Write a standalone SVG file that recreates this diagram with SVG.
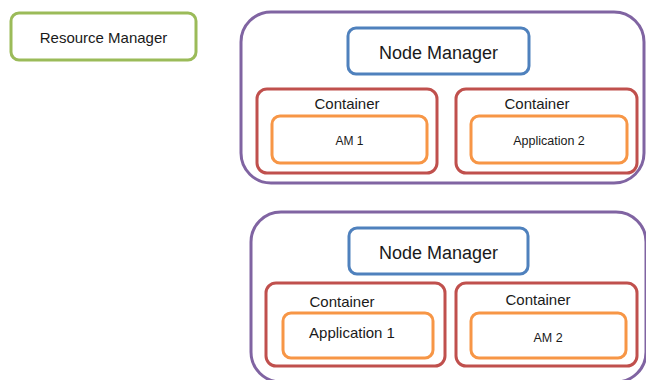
<svg xmlns="http://www.w3.org/2000/svg" width="646" height="380" viewBox="0 0 646 380">
  <style>
    text { font-family: "Liberation Sans", Arial, sans-serif; fill: #1a1a1a; text-anchor: middle; }
    rect { fill: #ffffff; stroke-width: 3; }
    .rm { stroke: #9bbb59; }
    .host { stroke: #8064a2; }
    .nm { stroke: #4f81bd; }
    .ct { stroke: #c0504d; }
    .app { stroke: #f79646; }
  </style>
  <rect width="646" height="380" style="fill:#ffffff;stroke:none"/>

  <g id="resource-manager">
    <rect class="rm" x="11" y="13" width="185" height="47" rx="8"/>
    <text x="103.5" y="43" font-size="15">Resource Manager</text>
  </g>

  <!-- first host -->
  <g id="host-1">
    <rect class="host" x="241" y="12" width="403" height="171" rx="30"/>
  </g>
  <g id="node-manager-1">
    <rect class="nm" x="348" y="28" width="181" height="46" rx="8"/>
    <text x="438.5" y="59" font-size="18">Node Manager</text>
  </g>
  <g id="container-1a">
    <rect class="ct" x="257" y="89" width="180" height="84" rx="10"/>
    <text x="347" y="109" font-size="15">Container</text>
  </g>
  <g id="am-1">
    <rect class="app" x="272" y="116" width="155" height="47" rx="8"/>
    <text x="349.5" y="145" font-size="12">AM 1</text>
  </g>
  <g id="container-1b">
    <rect class="ct" x="456" y="89" width="181" height="84" rx="10"/>
    <text x="537" y="109" font-size="15">Container</text>
  </g>
  <g id="application-2">
    <rect class="app" x="471" y="116" width="156" height="47" rx="8"/>
    <text x="549" y="145" font-size="12.5">Application 2</text>
  </g>

  <!-- second host -->
  <g id="host-2">
    <rect class="host" x="251" y="212" width="395" height="170" rx="30"/>
  </g>
  <g id="node-manager-2">
    <rect class="nm" x="349" y="228" width="179" height="46" rx="8"/>
    <text x="438.5" y="259" font-size="18">Node Manager</text>
  </g>
  <g id="container-2a">
    <rect class="ct" x="266" y="283" width="179" height="83" rx="10"/>
    <text x="342" y="307" font-size="15">Container</text>
  </g>
  <g id="application-1">
    <rect class="app" x="283" y="313" width="150" height="45" rx="8"/>
    <text x="352" y="338" font-size="15">Application 1</text>
  </g>
  <g id="container-2b">
    <rect class="ct" x="456" y="283" width="181" height="83" rx="10"/>
    <text x="538" y="305" font-size="15">Container</text>
  </g>
  <g id="am-2">
    <rect class="app" x="471" y="313" width="155" height="45" rx="8"/>
    <text x="548" y="342" font-size="12.5">AM 2</text>
  </g>

  <g id="connectors"/>
</svg>
